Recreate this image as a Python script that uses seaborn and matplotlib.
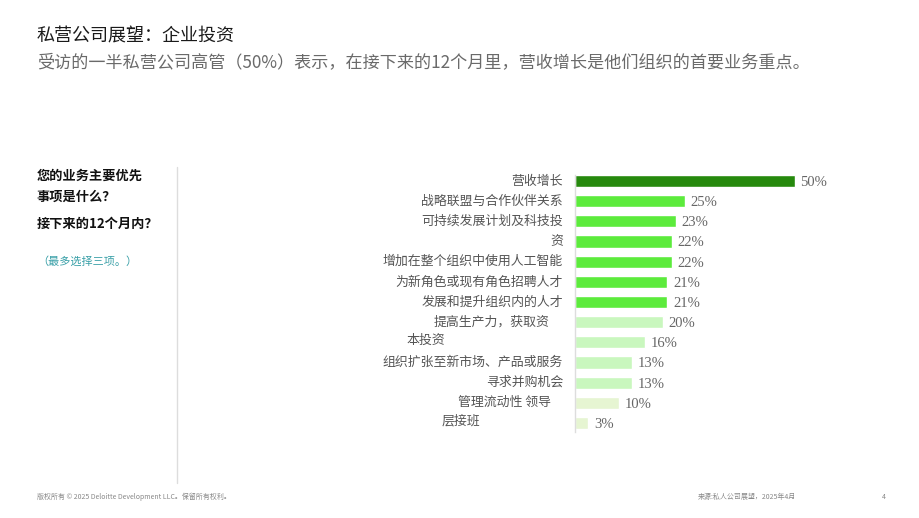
import matplotlib
matplotlib.use('Agg')
import matplotlib.pyplot as plt
import matplotlib.transforms as mtransforms
import seaborn as sns
import pandas as pd

# text lines shown beside each bar (the source wraps some labels across rows)
row_labels = ['营收增长', '战略联盟与合作伙伴关系', '可持续发展计划及科技投', '资',
              '增加在整个组织中使用人工智能', '为新角色或现有角色招聘人才', '发展和提升组织内的人才',
              '提高生产力，获取资', '本投资', '组织扩张至新市场、产品或服务', '寻求并购机会',
              '管理流动性 领导', '层接班']
values = [50, 25, 23, 22, 22, 21, 21, 20, 16, 13, 13, 10, 3]
tier = ['top', 'high', 'high', 'high', 'high', 'high', 'high',
        'mid', 'mid', 'mid', 'mid', 'low', 'low']

title = '私营公司展望：企业投资'
subtitle = '受访的一半私营公司高管（50%）表示，在接下来的12个月里，营收增长是他们组织的首要业务重点。'
question = ['您的业务主要优先\n事项是什么？', '接下来的12个月内？']
note = '（最多选择三项。）'
footer_left = '版权所有 © 2025 Deloitte Development LLC。保留所有权利。'
footer_right = '来源:私人公司展望，2025年4月'
page_no = '4'

sns.set_theme(style='white')
plt.rcParams['font.family'] = ['Noto Sans CJK SC', 'DejaVu Sans']

palette = {'top': '#26890d', 'high': '#5ceb3c', 'mid': '#c9f7be', 'low': '#e6f5d2'}

df = pd.DataFrame({'row': range(len(values)), 'value': values, 'tier': tier})

fig = plt.figure(figsize=(9.2, 5.18), dpi=100)
ax = fig.add_axes([575 / 920, 1 - 432 / 518, 330 / 920, (432 - 175) / 518])

sns.barplot(data=df, x='value', y='row', hue='tier', palette=palette, orient='h',
            dodge=False, legend=False, width=0.6, saturation=1, ax=ax)
ax.set_xlim(0, 75)
ax.set_ylim(12.45, -0.3)
ax.set_xlabel('')
ax.set_ylabel('')
ax.set_xticks([])
ax.set_yticks([])
for s in ['top', 'right', 'bottom']:
    ax.spines[s].set_visible(False)
ax.spines['left'].set_color('#dddddd')
ax.spines['left'].set_linewidth(1)

# value labels
for i, v in enumerate(values):
    ax.annotate(f'{v}%', xy=(v, i), xytext=(4, -1), textcoords='offset points',
                ha='left', va='center', fontsize=10.5, color='#666666', family='Liberation Serif')

# row labels; wrapped continuation lines sit where the source put them
label_pos = [('right', -12)] * 7 + [('right', -25), ('left', -168), ('right', -12),
                                    ('right', -12), ('right', -24), ('left', -133)]
ytrans = ax.get_yaxis_transform()
for i, (lab, (ha, dx)) in enumerate(zip(row_labels, label_pos)):
    dy = -2 if lab in ('本投资', '层接班') else 0
    tr = mtransforms.offset_copy(ytrans, fig=fig, x=dx, y=-dy, units='dots')
    ax.text(0, i, lab, transform=tr, ha=ha, va='center', fontsize=9.3, color='#555555')

# header
fig.text(37 / 920, 1 - 37 / 518, title, fontsize=13, color='#1a1a1a', va='center')
fig.text(37 / 920, 1 - 63 / 518, subtitle, fontsize=12.3, color='#6a6a6a', va='center')

# left panel
fig.text(37 / 920, 1 - 186 / 518, question[0], fontsize=9.5, fontweight='bold',
         color='#111111', va='center', linespacing=1.6)
fig.text(37 / 920, 1 - 224 / 518, question[1], fontsize=9.5, fontweight='bold',
         color='#111111', va='center')
fig.text(37 / 920, 1 - 261 / 518, note, fontsize=8, color='#3aa0a8', va='center')
fig.add_artist(plt.Line2D([177 / 920, 177 / 920], [1 - 167 / 518, 1 - 483 / 518],
                          color='#dddddd', lw=1))

# footer
fig.text(37 / 920, 1 - 497 / 518, footer_left, fontsize=5, color='#888888', va='center')
fig.text(698 / 920, 1 - 497 / 518, footer_right, fontsize=5, color='#888888', va='center')
fig.text(882 / 920, 1 - 497 / 518, page_no, fontsize=5, color='#888888', va='center')

fig.savefig('out.png', dpi=100)
